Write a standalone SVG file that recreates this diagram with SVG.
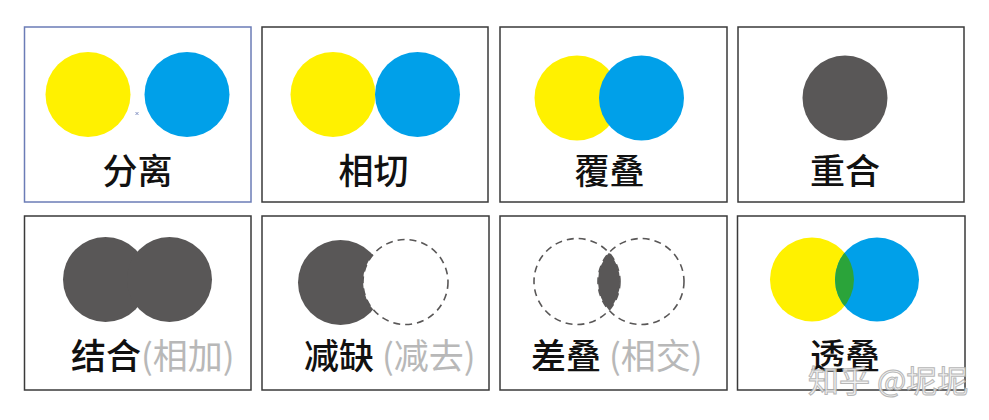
<svg xmlns="http://www.w3.org/2000/svg" width="989" height="420" viewBox="0 0 989 420">
<defs>
<style>
.panel{fill:#fff;stroke:#3a3a3a;stroke-width:1.5}
.sel{stroke:#6b7cb6}
.y{fill:#fff100}
.b{fill:#00a0e9}
.d{fill:#595757}
.dash{fill:none;stroke:#595757;stroke-width:1.6;stroke-dasharray:7 5}
.lbl{font-family:"Noto Sans CJK SC","Noto Sans",sans-serif;font-size:35px;font-weight:500;fill:#111;text-anchor:middle}
.g{fill:#b8b8b8}
.wm{font-family:"Noto Sans CJK SC","Noto Sans",sans-serif;font-size:31px;fill:#f2f2f2;stroke:#b0b0b0;stroke-width:1;opacity:0.9}
</style>
<clipPath id="lens7"><circle cx="577" cy="281.5" r="43"/></clipPath>
<clipPath id="lens8"><circle cx="812" cy="279.5" r="42"/></clipPath>
</defs>
<rect width="989" height="420" fill="#fff"/>

<g id="n1">
<rect class="panel sel" x="24.5" y="27" width="226.5" height="175"/>
<circle class="y" cx="88" cy="94.5" r="42.5"/>
<circle class="b" cx="187" cy="94.5" r="42.5"/>
<path d="M135.5 112 l3 3 M138.5 112 l-3 3" stroke="#6b7cb6" stroke-width="0.8"/>
<text class="lbl" x="137.5" y="184">分离</text>
</g>

<g id="n2">
<rect class="panel" x="262" y="27" width="226" height="175"/>
<circle class="y" cx="333" cy="94.5" r="42.5"/>
<circle class="b" cx="417.5" cy="94.5" r="42.5"/>
<text class="lbl" x="373.5" y="184">相切</text>
</g>

<g id="n3">
<rect class="panel" x="500" y="27" width="227" height="175"/>
<circle class="y" cx="577" cy="98" r="42.5"/>
<circle class="b" cx="641.5" cy="98" r="42.5"/>
<text class="lbl" x="609.5" y="184">覆叠</text>
</g>

<g id="n4">
<rect class="panel" x="738" y="27" width="226" height="175"/>
<circle class="d" cx="845" cy="98" r="42.5"/>
<text class="lbl" x="845" y="184">重合</text>
</g>

<g id="n5">
<rect class="panel" x="24.5" y="216" width="226.5" height="174"/>
<circle class="d" cx="105.5" cy="279.5" r="42.5"/>
<circle class="d" cx="169.5" cy="279.5" r="42.5"/>
<text class="lbl" x="71" y="369" style="text-anchor:start">结合<tspan class="g" font-weight="400">(相加)</tspan></text>
</g>

<g id="n6">
<rect class="panel" x="262" y="216" width="227" height="174"/>
<circle class="d" cx="340.5" cy="282.5" r="42.5"/>
<circle cx="405.5" cy="282" r="42.5" fill="#fff"/>
<circle class="dash" cx="405.5" cy="282" r="42.5"/>
<text class="lbl" x="304" y="369" style="text-anchor:start">减缺 <tspan class="g" font-weight="400">(减去)</tspan></text>
</g>

<g id="n7">
<rect class="panel" x="500" y="216" width="227" height="174"/>
<circle class="d" cx="641" cy="281.5" r="43" clip-path="url(#lens7)"/>
<circle class="dash" cx="577" cy="281.5" r="43"/>
<circle class="dash" cx="641" cy="281.5" r="43"/>
<text class="lbl" x="531" y="369" style="text-anchor:start">差叠 <tspan class="g" font-weight="400">(相交)</tspan></text>
</g>

<g id="n8">
<rect class="panel" x="737.5" y="216" width="227.5" height="174"/>
<circle class="y" cx="812" cy="279.5" r="42"/>
<circle class="b" cx="877" cy="279.5" r="42"/>
<circle cx="877" cy="279.5" r="42" fill="#2ba43a" clip-path="url(#lens8)"/>
<text class="lbl" x="845" y="369">透叠</text>
</g>

<g id="connectors"></g>

<text class="wm" x="808" y="392">知乎 @坭坭</text>
</svg>
